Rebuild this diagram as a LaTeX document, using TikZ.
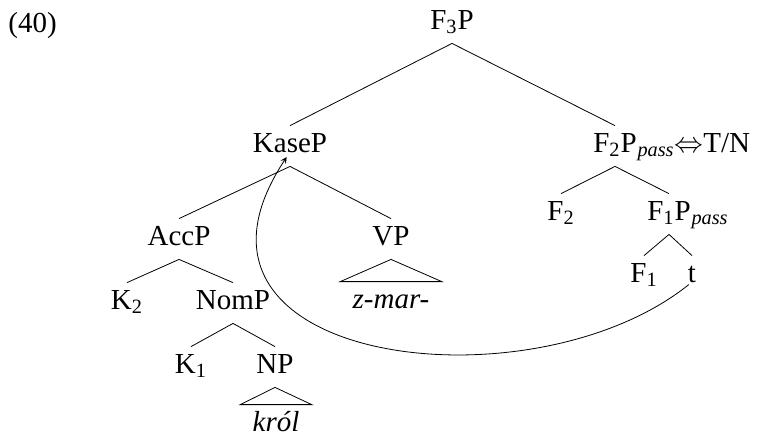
\documentclass[tikz,border=0pt]{standalone}
\usepackage{fontspec}
\setmainfont{Liberation Serif}
\tikzset{
    cat/.style={inner sep=0pt, text height=13pt, text depth=7pt, anchor=base},
    leaf/.style={cat, text depth=0pt},
    tail/.style={inner sep=0pt, anchor=base west},
}
% parent with two daughters
\newcommand\Branch[3]{%
    \draw (#1.south) -- (#2.north);
    \draw (#1.south) -- (#3.north);
}
% triangle over a phrase
\newcommand\Roof[2]{%
    \draw (#1.south) -- ([xshift=-6pt]#2.north west) -- ([xshift=6pt]#2.north east) -- cycle;
}

\begin{document}
\begin{tikzpicture}[x=0.5pt,y=-0.5pt,font=\fontsize{14.5pt}{17pt}\selectfont]
    \useasboundingbox (0,0) rectangle (758,436);
    \node[tail] (num) at (8,32) {(40)};
    % top
    \node[cat] (F3P) at (452,29) {F\textsubscript{3}P};
    \node[cat] (KaseP) at (290,152) {KaseP};
    \node[cat] (F2P) at (615,152) {F\textsubscript{2}P};
    \node[tail] (F2Ptail) at (F2P.base east) {\textsubscript{\itshape pass}$\Leftrightarrow$T/N};
    \Branch{F3P}{KaseP}{F2P}
    \begin{scope} % KaseP
        \node[cat] (AccP) at (179,245) {AccP};
        \node[cat] (VP) at (391,245) {VP};
        \node[leaf] (zmar) at (391,308) {\itshape z-mar-};
        \Branch{KaseP}{AccP}{VP}
        \Roof{VP}{zmar}
        \node[cat] (K2) at (127,309) {K\textsubscript{2}};
        \node[cat] (NomP) at (233,309) {NomP};
        \Branch{AccP}{K2}{NomP}
        \node[cat] (K1) at (191,373) {K\textsubscript{1}};
        \node[cat] (NP) at (275,373) {NP};
        \node[leaf] (krol) at (276,431) {\itshape król};
        \Branch{NomP}{K1}{NP}
        \Roof{NP}{krol}
    \end{scope}
    \begin{scope} % F2P
        \node[cat] (F2) at (561,220) {F\textsubscript{2}};
        \node[cat] (F1P) at (669,220) {F\textsubscript{1}P};
        \node[tail] (F1Ptail) at (F1P.base east) {\textsubscript{\itshape pass}};
        \Branch{F2P}{F2}{F1P}
        \node[cat] (F1) at (644,282) {F\textsubscript{1}};
        \node[cat] (t) at (692,282) {t};
        \Branch{F1P}{F1}{t}
    \end{scope}
    % movement
    \draw[-stealth, shorten <=2pt, shorten >=3pt] (t.base) .. controls (530,412) and (150,364) .. (KaseP.base);
\end{tikzpicture}
\end{document}
